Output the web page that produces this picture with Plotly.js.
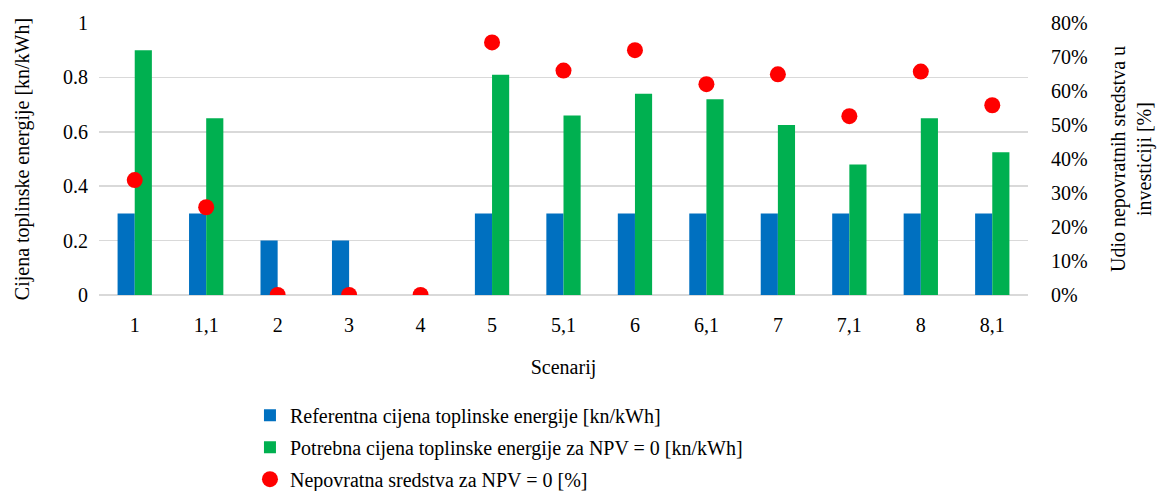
<!DOCTYPE html>
<html>
<head>
<meta charset="utf-8">
<script src="https://cdn.plot.ly/plotly-3.0.1.min.js"></script>
<style>html,body{margin:0;padding:0;background:#fff;}#chart{width:1170px;height:491px;}</style>
</head>
<body>
<div id="chart"></div>
<script>
const scenarios = ["1","1,1","2","3","4","5","5,1","6","6,1","7","7,1","8","8,1"];
const refPrice = [0.3,0.3,0.2,0.2,null,0.3,0.3,0.3,0.3,0.3,0.3,0.3,0.3];
const reqPrice = [0.9,0.65,null,null,null,0.81,0.66,0.74,0.72,0.625,0.48,0.65,0.525];
const grantShare = [0.338,0.258,0,0,0,0.743,0.66,0.72,0.62,0.649,0.526,0.657,0.558];

const font = {family: "Liberation Serif, Times New Roman, serif", size: 20, color: "#000"};
const clear = "rgba(0,0,0,0)";

const traces = [
  {type: "bar", name: "Referentna cijena toplinske energije [kn/kWh]", x: scenarios, y: refPrice,
   legendgroup: "a", marker: {color: "#0070c0"}},
  {type: "bar", name: "Potrebna cijena toplinske energije za NPV = 0 [kn/kWh]", x: scenarios, y: reqPrice,
   legendgroup: "b", marker: {color: "#00b050"}},
  {type: "scatter", mode: "markers", name: "Nepovratna sredstva za NPV = 0 [%]", x: scenarios, y: grantShare,
   legendgroup: "c", yaxis: "y2", marker: {color: "#ff0000", size: 16}}
];

const layout = {
  width: 1170, height: 491,
  margin: {l: 99, r: 142, t: 23, b: 196, autoexpand: false},
  paper_bgcolor: "#fff", plot_bgcolor: "#fff",
  font: font,
  showlegend: true,
  barmode: "group",
  bargap: 0.52,
  bargroupgap: 0,
  xaxis: {type: "category", range: [-0.5, 12.5], tickfont: font, showgrid: false, zeroline: false, automargin: false,
          showline: false, ticks: "outside", ticklen: 12, tickcolor: clear,
          title: {text: "Scenarij", font: font, standoff: 24}},
  yaxis: {range: [0, 1], dtick: 0.2, tickfont: font, showgrid: true, gridcolor: "#d9d9d9", gridwidth: 1.5,
          zeroline: true, zerolinecolor: "#d9d9d9", zerolinewidth: 1.5, automargin: false,
          ticks: "outside", ticklen: 6, tickcolor: clear,
          title: {text: "Cijena toplinske energije [kn/kWh]", font: font, standoff: 28}},
  yaxis2: {range: [0, 0.8], dtick: 0.1, tickformat: ".0%", overlaying: "y", side: "right", automargin: false,
           tickfont: font, showgrid: false, zeroline: false, ticks: "outside", ticklen: 18, tickcolor: clear,
           title: {text: "Udio nepovratnih sredstva u<br>investiciji [%]", font: font, standoff: 24}},
  legend: {orientation: "v", x: 0.1625, xanchor: "left", y: -0.37, yanchor: "top", tracegroupgap: 3,
           font: font, bgcolor: clear, traceorder: "grouped", itemwidth: 30}
};

Plotly.newPlot("chart", traces, layout, {displayModeBar: false, staticPlot: true});
</script>
</body>
</html>
